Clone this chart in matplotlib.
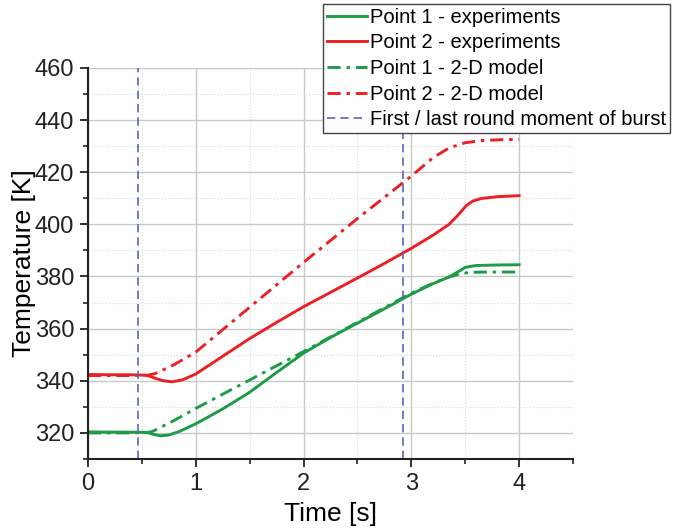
import matplotlib.pyplot as plt
from matplotlib.ticker import MultipleLocator

plt.rcParams['font.family'] = ['Liberation Sans', 'DejaVu Sans']

# Point 1 - experiments
t_p1_exp = [0.0, 0.2, 0.4, 0.55, 0.6, 0.67, 0.75, 0.85, 1.0, 1.25, 1.5, 1.75, 2.0, 2.25, 2.5,
            2.75, 3.0, 3.2, 3.35, 3.45, 3.5, 3.6, 3.8, 4.0]
T_p1_exp = [320.4, 320.3, 320.3, 320.2, 319.5, 318.9, 319.2, 320.6, 323.5, 329.2, 335.6, 343.2, 350.6, 356.6, 362.1,
            367.6, 373.2, 377.2, 379.8, 382.2, 383.5, 384.2, 384.4, 384.5]

# Point 2 - experiments
t_p2_exp = [0.0, 0.2, 0.4, 0.55, 0.62, 0.7, 0.78, 0.88, 1.0, 1.25, 1.5, 1.75, 2.0, 2.25, 2.5,
            2.75, 3.0, 3.2, 3.35, 3.45, 3.51, 3.57, 3.65, 3.8, 4.0]
T_p2_exp = [342.4, 342.3, 342.3, 342.1, 341.0, 340.0, 339.6, 340.4, 342.6, 349.4, 356.2, 362.4, 368.4, 373.9, 379.4,
            385.0, 390.8, 395.8, 400.0, 404.3, 407.2, 408.9, 409.9, 410.6, 411.0]

# Point 1 - 2-D model
t_p1_mod = [0.0, 0.3, 0.55, 0.6, 0.8, 1.0, 1.5, 2.0, 2.5, 3.0, 3.2, 3.35, 3.45, 3.55, 3.7, 4.0]
T_p1_mod = [320.0, 320.0, 320.1, 320.6, 324.8, 329.4, 340.3, 351.2, 362.4, 373.6, 377.4, 379.8, 381.0, 381.6, 381.7, 381.7]

# Point 2 - 2-D model
t_p2_mod = [0.0, 0.3, 0.55, 0.62, 0.8, 1.0, 1.5, 2.0, 2.5, 3.0, 3.2, 3.35, 3.5, 3.65, 3.8, 4.0]
T_p2_mod = [342.0, 342.0, 342.1, 342.7, 346.2, 351.0, 368.2, 385.4, 402.2, 418.5, 425.5, 429.3, 431.3, 432.1, 432.4, 432.6]

# first / last round moment of burst
burst_times = [0.46, 2.92]

green = '#1e9b45'
red = '#ec2024'
blue = '#5566c4'
dashdot = (0, (4.5, 2.0, 1.2, 2.0))

fig = plt.figure(figsize=(6.84, 5.31), dpi=100)
ax = fig.add_axes([0.1287, 0.1356, 0.7090, 0.7366])

ax.plot(t_p1_exp, T_p1_exp, color=green, lw=2.1, label='Point 1 - experiments')
ax.plot(t_p2_exp, T_p2_exp, color=red, lw=2.1, label='Point 2 - experiments')
ax.plot(t_p1_mod, T_p1_mod, color=green, lw=2.1, ls=dashdot, label='Point 1 - 2-D model')
ax.plot(t_p2_mod, T_p2_mod, color=red, lw=2.1, ls=dashdot, label='Point 2 - 2-D model')
for i, bt in enumerate(burst_times):
    ax.axvline(bt, color=blue, lw=1.2, ls=(0, (5, 3)),
               label='First / last round moment of burst' if i == 0 else None)

ax.set_xlim(0, 4.5)
ax.set_ylim(310, 460)
ax.xaxis.set_major_locator(MultipleLocator(1))
ax.xaxis.set_minor_locator(MultipleLocator(0.5))
ax.yaxis.set_major_locator(MultipleLocator(20))
ax.yaxis.set_minor_locator(MultipleLocator(10))
ax.set_xticks([0, 1, 2, 3, 4])

ax.grid(which='major', color='#c8c8c8', lw=1.0, ls='-')
ax.grid(which='minor', color='#d8d8d8', lw=0.8, ls=':')
ax.set_axisbelow(True)

for s in ['top', 'right']:
    ax.spines[s].set_visible(False)
for s in ['left', 'bottom']:
    ax.spines[s].set_linewidth(1.5)
    ax.spines[s].set_color('#222222')

ax.tick_params(which='major', direction='out', length=6, width=1.3, labelsize=17, colors='#222222', pad=4)
ax.tick_params(which='minor', direction='out', length=3.5, width=1.2, colors='#222222')

ax.set_xlabel('Time [s]', fontsize=19, labelpad=5)
ax.set_ylabel('Temperature [K]', fontsize=19, labelpad=-1)

leg = ax.legend(loc='upper right', bbox_to_anchor=(0.98, 0.993), bbox_transform=fig.transFigure,
                fontsize=14.5, frameon=True, fancybox=False, framealpha=1, edgecolor='#444444',
                handlelength=2.0, handletextpad=0.15, borderpad=0.2, labelspacing=0.33, borderaxespad=0)
leg.get_frame().set_linewidth(1.0)

fig.savefig('out.png', dpi=100)
